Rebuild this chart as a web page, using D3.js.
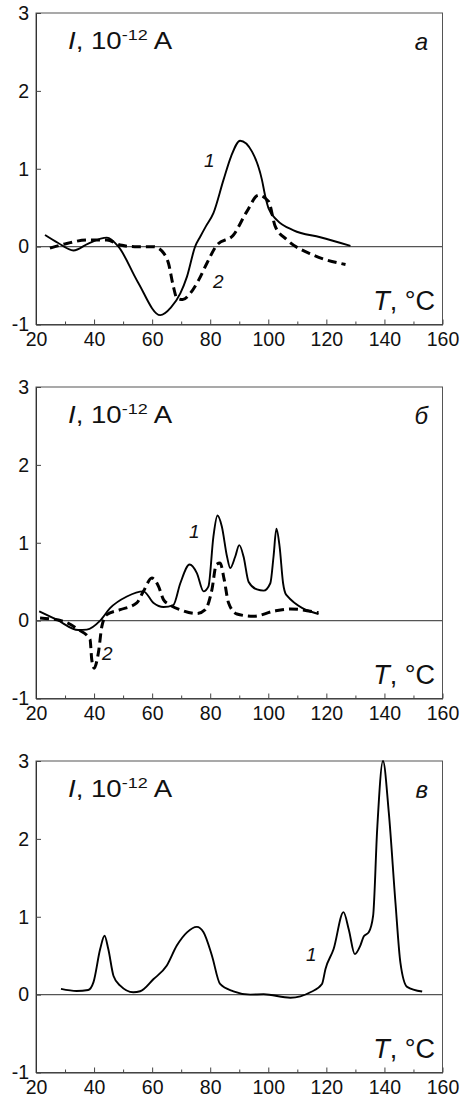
<!DOCTYPE html>
<html>
<head>
<meta charset="utf-8">
<script src="https://cdn.jsdelivr.net/npm/d3@7"></script>
<style>
  body { margin: 0; background: #fff; }
  svg text { font-family: "Liberation Sans", Arial, sans-serif; fill: #111; }
</style>
</head>
<body>
<div id="chart"></div>
<script>
// Tick values
var xTicks = [20, 40, 60, 80, 100, 120, 140, 160];
var xMinor = [30, 50, 70, 90, 110, 130, 150];
var yTicks = [-1, 0, 1, 2, 3];

// Panel a, curve 1 (solid)
var tA1 = [23.1, 27.5, 32.9, 38, 44.4, 48.4, 55, 62.8, 66.5, 69.7, 72, 74.8, 76.6, 78.5, 81.1, 84.6, 87.2, 90.3, 94.4, 97.8, 99, 100.1, 103, 108.7, 117.9, 128.3];
var iA1 = [0.15, 0.05, -0.05, 0.04, 0.116, 0.0, -0.45, -0.88, -0.78, -0.6, -0.385, 0.0, 0.13, 0.26, 0.43, 0.86, 1.16, 1.36, 1.22, 0.86, 0.64, 0.49, 0.34, 0.21, 0.12, 0.01];
// Panel a, curve 2 (dashed)
var tA2 = [24.8, 30.6, 37.5, 44.4, 49, 54, 60.5, 64, 65.6, 67.3, 68.5, 70.5, 73.1, 76, 78.9, 82.3, 88, 92.6, 96.6, 100.1, 102.4, 106.4, 115.6, 126.6];
var iA2 = [-0.02, 0.04, 0.085, 0.085, 0.02, 0.0, 0.0, -0.085, -0.21, -0.51, -0.66, -0.68, -0.6, -0.43, -0.21, 0.02, 0.15, 0.45, 0.66, 0.58, 0.26, 0.09, -0.11, -0.23];

// Panel б, curve 1 (solid)
var tB1 = [21.1, 27.1, 34.6, 37.5, 42.1, 45.5, 51.3, 57, 60.5, 63.9, 67.3, 69.7, 72.9, 75.4, 77.7, 79.4, 81.1, 82.5, 84, 85.8, 86.9, 88.6, 90, 91.5, 93.2, 96.1, 98.4, 100.7, 101.8, 102.8, 103.9, 105.1, 106.2, 117.3];
var iB1 = [0.12, 0.013, -0.12, -0.115, 0.0, 0.16, 0.31, 0.376, 0.226, 0.175, 0.2, 0.48, 0.72, 0.61, 0.376, 0.44, 1.08, 1.35, 1.21, 0.82, 0.675, 0.82, 0.97, 0.82, 0.5, 0.4, 0.385, 0.48, 0.82, 1.18, 0.95, 0.48, 0.33, 0.085];
// Panel б, curve 2 (dashed)
var tB2 = [21.4, 29.4, 34.6, 38.6, 39.2, 40, 41.5, 42.7, 44.4, 49, 54.7, 57, 59.9, 62.2, 63.9, 66.2, 69.7, 75.4, 78.3, 80.6, 82.1, 83.4, 84.8, 86.3, 89.2, 94.9, 101.8, 107.6, 117.3];
var iB2 = [0.035, -0.01, -0.115, -0.24, -0.5, -0.61, -0.41, -0.07, 0.077, 0.14, 0.227, 0.376, 0.547, 0.44, 0.27, 0.2, 0.14, 0.09, 0.14, 0.4, 0.72, 0.74, 0.53, 0.23, 0.085, 0.055, 0.12, 0.15, 0.1];

// Panel в, curve 1 (solid)
var tC1 = [28.6, 34, 38, 39.8, 42.1, 43.6, 44.9, 46.7, 49, 53.5, 55.9, 60.5, 65, 68.5, 72, 75.4, 77.7, 80.6, 83.4, 88, 93.8, 98.4, 107.6, 114.5, 118.5, 119.7, 122.5, 125.9, 127.7, 129.8, 131.7, 132.9, 134.6, 136.1, 137.5, 139.5, 141.5, 143.8, 145.5, 147.8, 153];
var iC1 = [0.073, 0.047, 0.06, 0.16, 0.585, 0.756, 0.585, 0.24, 0.115, 0.03, 0.043, 0.2, 0.37, 0.63, 0.8, 0.87, 0.8, 0.5, 0.137, 0.043, 0.0, 0.004, -0.04, 0.03, 0.137, 0.33, 0.585, 1.06, 0.84, 0.52, 0.63, 0.75, 0.8, 1.01, 2.12, 3.0, 2.34, 1.18, 0.41, 0.1, 0.04];

var panels = [
  { top: 13,  letter: "а", curves: [{t: tA1, v: iA1, dash: false}, {t: tA2, v: iA2, dash: true}],
    labels: [{text: "1", x: 204, y: 167}, {text: "2", x: 213, y: 288}] },
  { top: 387, letter: "б", curves: [{t: tB1, v: iB1, dash: false}, {t: tB2, v: iB2, dash: true}],
    labels: [{text: "1", x: 189, y: 538}, {text: "2", x: 102, y: 660}] },
  { top: 761, letter: "в", curves: [{t: tC1, v: iC1, dash: false}],
    labels: [{text: "1", x: 306, y: 961}] }
];

var W = 468, H = 1101;
var left = 36, right = 442.5, ph = 311.5;

var svg = d3.select("#chart").append("svg")
  .attr("width", W)
  .attr("height", H);

var x = d3.scaleLinear().domain([20, 160]).range([left, right]);

panels.forEach(function(p) {
  var y = d3.scaleLinear().domain([-1, 3]).range([p.top + ph, p.top]);
  var g = svg.append("g");

  // frame
  g.append("rect")
    .attr("x", left).attr("y", p.top)
    .attr("width", right - left).attr("height", ph)
    .attr("fill", "none").attr("stroke", "#555").attr("stroke-width", 1);

  // zero line
  g.append("line")
    .attr("x1", left).attr("x2", right)
    .attr("y1", y(0)).attr("y2", y(0))
    .attr("stroke", "#555").attr("stroke-width", 1.3);

  // x axis
  var xa = g.append("g")
    .attr("transform", "translate(0," + (p.top + ph) + ")")
    .call(d3.axisBottom(x).tickValues(xTicks).tickSize(-5).tickSizeOuter(0).tickPadding(8));
  g.append("g")
    .attr("transform", "translate(0," + (p.top + ph) + ")")
    .call(d3.axisBottom(x).tickValues(xMinor).tickSize(-3).tickSizeOuter(0).tickFormat(""))
    .select(".domain").remove();

  // y axis
  var ya = g.append("g")
    .attr("transform", "translate(" + left + ",0)")
    .call(d3.axisLeft(y).tickValues(yTicks).tickSize(-5).tickSizeOuter(0).tickPadding(7)
      .tickFormat(function(d) { return String(d); }));

  [xa, ya].forEach(function(a) {
    a.select(".domain").attr("stroke", "#333");
    a.selectAll("text").style("font-size", "19.5px").attr("fill", "#111")
      .style("font-family", "'Liberation Sans', Arial, sans-serif");
  });
  g.selectAll(".tick line").attr("stroke", "#444");

  // curves
  var line = d3.line()
    .x(function(d) { return x(d[0]); })
    .y(function(d) { return y(d[1]); })
    .curve(d3.curveMonotoneX);

  p.curves.forEach(function(c) {
    var pts = c.t.map(function(t, i) { return [t, c.v[i]]; });
    g.append("path")
      .attr("d", line(pts))
      .attr("fill", "none")
      .attr("stroke", "#000")
      .attr("stroke-width", c.dash ? 3 : 1.9)
      .attr("stroke-dasharray", c.dash ? "9,5" : null);
  });

  // y label
  var yl = g.append("text")
    .attr("transform", "translate(68," + (p.top + 36) + ") scale(1.2,1)")
    .style("font-size", "23px");
  yl.append("tspan").style("font-style", "italic").text("I");
  yl.append("tspan").text(", 10");
  yl.append("tspan").attr("dy", -9).style("font-size", "15px").text("-12");
  yl.append("tspan").attr("dy", 9).text(" A");

  // x label
  var xl = g.append("text")
    .attr("x", 435).attr("y", p.top + ph - 15)
    .attr("text-anchor", "end")
    .style("font-size", "27px");
  xl.append("tspan").style("font-style", "italic").text("T");
  xl.append("tspan").text(", °C");

  // panel letter
  g.append("text")
    .attr("x", 428).attr("y", p.top + 37)
    .attr("text-anchor", "end")
    .style("font-size", "24px").style("font-style", "italic")
    .text(p.letter);

  // curve numbers
  p.labels.forEach(function(l) {
    g.append("text")
      .attr("x", l.x).attr("y", l.y)
      .style("font-size", "19px").style("font-style", "italic")
      .text(l.text);
  });
});
</script>
</body>
</html>
